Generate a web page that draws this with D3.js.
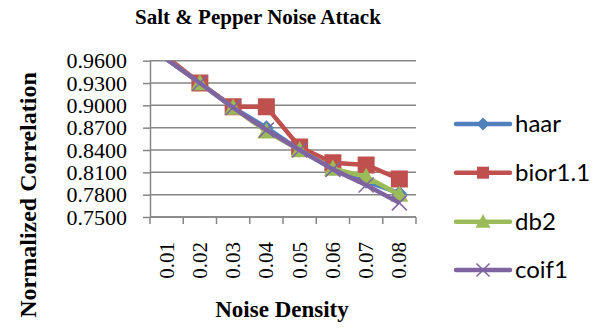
<!DOCTYPE html>
<html>
<head>
<meta charset="utf-8">
<script src="https://cdn.jsdelivr.net/npm/d3@7"></script>
<style>
  body { margin: 0; background: #fff; }
  svg { display: block; }
  .axis path, .axis line { stroke: #868686; stroke-width: 1.5; }
  .axis text { font-family: "Liberation Serif", serif; fill: #000; }
  .grid line { stroke: #868686; stroke-width: 1.5; }
</style>
</head>
<body>
<div id="chart"></div>
<script>
// chart data
const densities = ['0.01', '0.02', '0.03', '0.04', '0.05', '0.06', '0.07', '0.08'];
const haar  = [0.962, 0.930, 0.897, 0.870, 0.840, 0.815, 0.798, 0.782];
const bior  = [0.965, 0.930, 0.898, 0.898, 0.844, 0.823, 0.820, 0.801];
const db2   = [0.962, 0.930, 0.897, 0.865, 0.840, 0.815, 0.804, 0.780];
const coif1 = [0.962, 0.930, 0.897, 0.867, 0.840, 0.814, 0.793, 0.769];
const yTicks = [0.75, 0.78, 0.81, 0.84, 0.87, 0.90, 0.93, 0.96];

const series = [
  {name: 'haar', values: haar, color: '#4F81BD', marker: 'diamond'},
  {name: 'bior1.1', values: bior, color: '#C0504D', marker: 'square'},
  {name: 'db2', values: db2, color: '#9BBB59', marker: 'triangle'},
  {name: 'coif1', values: coif1, color: '#8064A2', marker: 'x'}
];

const width = 605;
const height = 334;
const plot = {left: 150, right: 416, top: 60.7, bottom: 217};

let svg = d3.select('#chart')
  .append('svg')
  .attr('width', width)
  .attr('height', height);

let x = d3.scaleBand()
  .domain(densities)
  .range([plot.left, plot.right])
  .padding(0);

let y = d3.scaleLinear()
  .domain([0.75, 0.96])
  .range([plot.bottom, plot.top]);

// title
svg.append('text')
  .attr('x', 258)
  .attr('y', 24)
  .attr('text-anchor', 'middle')
  .style('font-family', '"Liberation Serif", serif')
  .style('font-weight', 'bold')
  .style('font-size', '21px')
  .text('Salt & Pepper Noise Attack');

// gridlines
svg.append('g')
  .attr('class', 'grid')
  .selectAll('line')
  .data(yTicks)
  .enter()
  .append('line')
  .attr('x1', plot.left)
  .attr('x2', plot.right)
  .attr('y1', d => y(d))
  .attr('y2', d => y(d));

// y axis
let yAxis = svg.append('g')
  .attr('class', 'axis')
  .attr('transform', `translate(${plot.left},0)`)
  .call(d3.axisLeft(y).tickValues(yTicks).tickSize(7).tickSizeOuter(0).tickFormat(d3.format('.4f')));
yAxis.selectAll('text')
  .style('font-size', '22px')
  .attr('x', -23)
  .attr('dy', '0.33em');

// x axis: ticks on category boundaries
let xAxis = svg.append('g')
  .attr('class', 'axis')
  .attr('transform', `translate(0,${plot.bottom})`);
xAxis.append('line')
  .attr('x1', plot.left)
  .attr('x2', plot.right);
xAxis.selectAll('.xtick')
  .data(densities.map(d => x(d)).concat([plot.right]))
  .enter()
  .append('line')
  .attr('class', 'xtick')
  .attr('x1', d => d)
  .attr('x2', d => d)
  .attr('y1', 0)
  .attr('y2', 7);
xAxis.selectAll('.xlabel')
  .data(densities)
  .enter()
  .append('text')
  .attr('class', 'xlabel')
  .attr('text-anchor', 'end')
  .attr('transform', d => `translate(${x(d) + x.bandwidth() / 2 + 7},25) rotate(-90)`)
  .style('font-size', '21px')
  .text(d => d);

// axis titles
svg.append('text')
  .attr('x', 282)
  .attr('y', 317)
  .attr('text-anchor', 'middle')
  .style('font-family', '"Liberation Serif", serif')
  .style('font-weight', 'bold')
  .style('font-size', '23px')
  .text('Noise Density');

svg.append('text')
  .attr('transform', 'translate(36,195) rotate(-90)')
  .attr('text-anchor', 'middle')
  .style('font-family', '"Liberation Serif", serif')
  .style('font-weight', 'bold')
  .style('font-size', '24px')
  .text('Normalized Correlation');

// clip to plot area
svg.append('clipPath')
  .attr('id', 'plot-clip')
  .append('rect')
  .attr('x', plot.left - 20)
  .attr('y', plot.top)
  .attr('width', plot.right - plot.left + 40)
  .attr('height', plot.bottom - plot.top + 20);

function markerPath(type, s) {
  let h = s / 2;
  if (type === 'diamond') return `M0,${-h}L${h},0L0,${h}L${-h},0Z`;
  if (type === 'square') return `M${-h},${-h}H${h}V${h}H${-h}Z`;
  if (type === 'triangle') return `M0,${-h}L${h},${h * 0.8}L${-h},${h * 0.8}Z`;
  return `M${-h},${-h}L${h},${h}M${h},${-h}L${-h},${h}`;
}

const markerSize = {diamond: 15, square: 17, triangle: 18, x: 15};
const legendMarkerSize = {diamond: 13, square: 12, triangle: 15, x: 13};

let line = d3.line()
  .x((d, i) => x(densities[i]) + x.bandwidth() / 2)
  .y(d => y(d));

let plotArea = svg.append('g').attr('clip-path', 'url(#plot-clip)');

series.forEach(s => {
  let g = plotArea.append('g');
  g.append('path')
    .attr('d', line(s.values))
    .attr('fill', 'none')
    .attr('stroke', s.color)
    .attr('stroke-width', 4.5)
    .attr('stroke-linejoin', 'round');
  g.selectAll('.marker')
    .data(s.values.map((v, i) => ({v, i})).filter(d => d.v <= 0.96))
    .enter()
    .append('path')
    .attr('class', 'marker')
    .attr('transform', d => `translate(${x(densities[d.i]) + x.bandwidth() / 2},${y(d.v)})`)
    .attr('d', markerPath(s.marker, markerSize[s.marker]))
    .attr('fill', s.marker === 'x' ? 'none' : s.color)
    .attr('stroke', s.color)
    .attr('stroke-width', s.marker === 'x' ? 1.5 : 0);
});

// legend
const legendY = [124, 172.7, 221.7, 270];
let legend = svg.selectAll('.legend')
  .data(series)
  .enter()
  .append('g')
  .attr('class', 'legend')
  .attr('transform', (d, i) => `translate(456,${legendY[i]})`);
legend.append('line')
  .attr('x1', 0)
  .attr('x2', 54)
  .attr('stroke', d => d.color)
  .attr('stroke-width', 4.5)
  .attr('stroke-linecap', 'round');
legend.append('path')
  .attr('transform', 'translate(27,0)')
  .attr('d', d => markerPath(d.marker, legendMarkerSize[d.marker]))
  .attr('fill', d => d.marker === 'x' ? 'none' : d.color)
  .attr('stroke', d => d.color)
  .attr('stroke-width', d => d.marker === 'x' ? 1.5 : 0);
legend.append('text')
  .attr('x', 59)
  .attr('dy', '0.35em')
  .style('font-family', 'Lato, sans-serif')
  .style('font-size', '24px')
  .text(d => d.name);
</script>
</body>
</html>
